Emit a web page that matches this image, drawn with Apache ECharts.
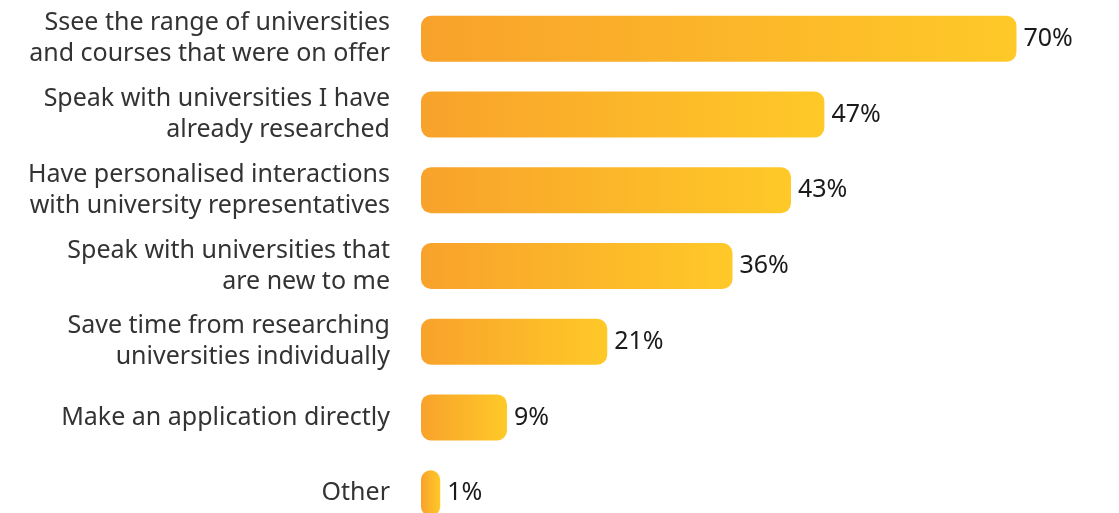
<!DOCTYPE html>
<html>
<head>
<meta charset="utf-8">
<script src="https://cdn.jsdelivr.net/npm/echarts@6/dist/echarts.min.js"></script>
<style>
html,body{margin:0;padding:0;background:#fff;}
#main{width:1119px;height:513px;}
</style>
</head>
<body>
<div id="main"></div>
<script>
var categories = [
    "Ssee the range of universities\nand courses that were on offer",
    "Speak with universities I have\nalready researched",
    "Have personalised interactions\nwith university representatives",
    "Speak with universities that\nare new to me",
    "Save time from researching\nuniversities individually",
    "Make an application directly",
    "Other"
];
var percents = [70, 47, 43, 36, 21, 9, 1];

var myChart = echarts.init(document.getElementById('main'));

// same gradient on every bar, left orange to right yellow
var barColor = new echarts.graphic.LinearGradient(0, 0, 1, 0, [
    {offset: 0, color: '#F8A22B'},
    {offset: 1, color: '#FFC928'}
]);

myChart.setOption({
    animation: false,
    grid: { left: 421, top: 1, height: 530, right: 19, outerBoundsMode: 'none' },
    xAxis: {
        type: 'value',
        min: -1.3,
        max: 80,
        startValue: -1.3,
        show: false
    },
    yAxis: {
        type: 'category',
        inverse: true,
        data: categories,
        axisLine: { show: false },
        axisTick: { show: false },
        axisLabel: {
            margin: 31,
            fontFamily: 'Noto Sans',
            fontSize: 25,
            lineHeight: 31,
            color: '#333333',
            align: 'right'
        }
    },
    series: [{
        type: 'bar',
        data: percents,
        barWidth: 46,
        itemStyle: {
            color: barColor,
            borderRadius: 10
        },
        label: {
            show: true,
            position: 'right',
            distance: 7,
            formatter: '{c}%',
            fontFamily: 'Noto Sans',
            fontSize: 25,
            color: '#1a1a1a'
        }
    }]
});
</script>
</body>
</html>
